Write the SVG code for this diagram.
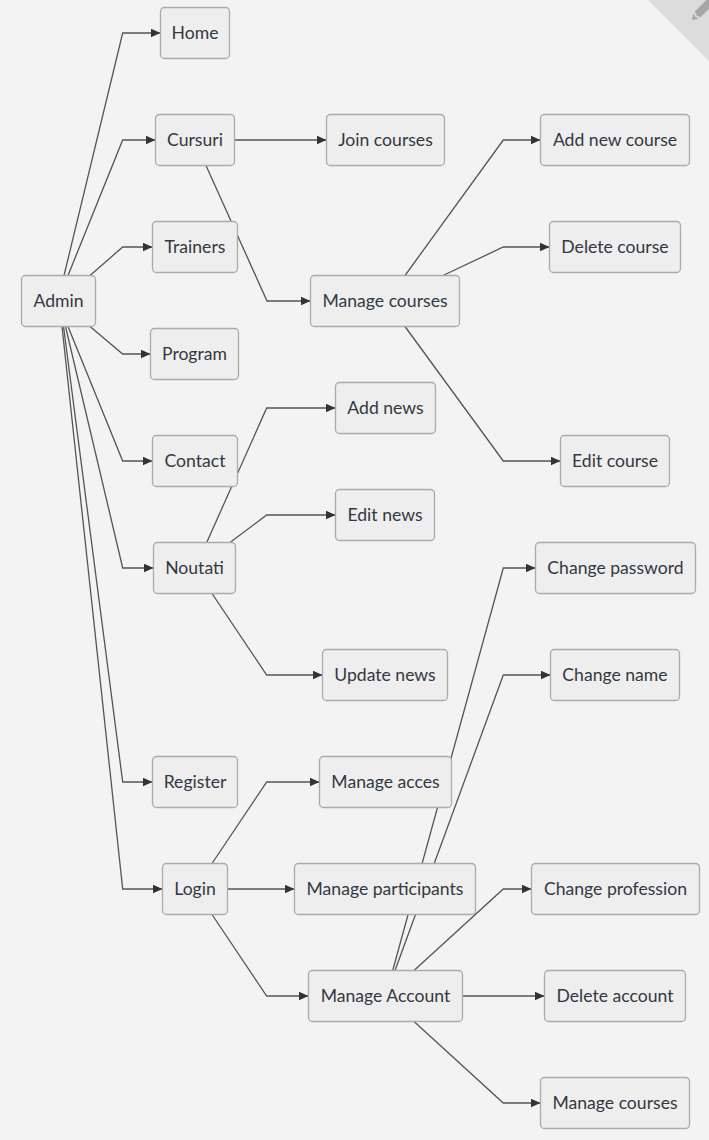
<svg xmlns="http://www.w3.org/2000/svg" width="709" height="1140" viewBox="0 0 709 1140">
<defs>
<style>
.n rect{fill:#eeeeee;stroke:#ababab;stroke-width:1.3}
.n text{font-family:Lato,"Open Sans","Liberation Sans",sans-serif;font-size:17.6px;fill:#333842;text-anchor:middle}
.e path{fill:none;stroke:#555555;stroke-width:1.3;marker-end:url(#ah)}
</style>
<marker id="ah" markerUnits="userSpaceOnUse" markerWidth="11" markerHeight="10" refX="10" refY="4.5" orient="auto">
<path d="M0,0 L10,4.5 L0,9 z" fill="#333333"/>
</marker>
</defs>
<rect x="0" y="0" width="709" height="1140" fill="#f3f3f3"/>
<g id="corner">
<polygon points="648,0 709,0 709,61" fill="#dcdcdc"/>
<polygon points="692,20 693.4,12.9 695.2,16.8 699.1,18.6" fill="#a6a6a6"/>
<polygon points="694.8,11.5 710.4,-4 716,1.6 700.5,17.2 696.6,15.4" fill="#a6a6a6"/>
</g>
<g id="connectors" class="e">
<path d="M64,275.5 L122.7,33 L160.5,33"/>
<path d="M68,275.5 L122.7,140 L155.5,140"/>
<path d="M90,275.5 L122.7,247 L152.5,247"/>
<path d="M90,326.5 L122.7,354 L150.5,354"/>
<path d="M68,326.5 L122.7,461 L152.5,461"/>
<path d="M65.5,326.5 L122.7,568 L153.5,568"/>
<path d="M63.5,326.5 L122.7,782 L152.5,782"/>
<path d="M62,326.5 L122.7,889 L162.5,889"/>
<path d="M234.5,140 L326.5,140"/>
<path d="M206,165.5 L267,301 L310.5,301"/>
<path d="M405,275.5 L503.3,140 L540.5,140"/>
<path d="M443,275.5 L503.3,247 L549.5,247"/>
<path d="M405,326.5 L503.3,461 L560.5,461"/>
<path d="M206.7,542.5 L266.7,408 L335.5,408"/>
<path d="M230,542.5 L266.7,515 L335.5,515"/>
<path d="M212,593.5 L266.7,675 L322.5,675"/>
<path d="M212,863.5 L266.7,782 L319.5,782"/>
<path d="M227.5,889 L294.5,889"/>
<path d="M212,914.5 L266.7,996 L308.5,996"/>
<path d="M392.7,970.5 L503.3,568 L535.5,568"/>
<path d="M395,970.5 L503.3,675 L550.5,675"/>
<path d="M414,970.5 L503.3,889 L531.5,889"/>
<path d="M462.5,996 L544.5,996"/>
<path d="M414,1021.5 L503.3,1103 L540.5,1103"/>
</g>
<g id="admin" class="n"><rect x="21.5" y="275.5" width="74" height="51" rx="4"/><text x="58.5" y="307">Admin</text></g>
<g id="home" class="n"><rect x="160.5" y="7.5" width="69" height="51" rx="4"/><text x="195" y="39">Home</text></g>
<g id="cursuri" class="n"><rect x="155.5" y="114.5" width="79" height="51" rx="4"/><text x="195" y="146">Cursuri</text></g>
<g id="trainers" class="n"><rect x="152.5" y="221.5" width="85" height="51" rx="4"/><text x="195" y="253">Trainers</text></g>
<g id="program" class="n"><rect x="150.5" y="328.5" width="88" height="51" rx="4"/><text x="194.5" y="360">Program</text></g>
<g id="contact" class="n"><rect x="152.5" y="435.5" width="85" height="51" rx="4"/><text x="195" y="467">Contact</text></g>
<g id="noutati" class="n"><rect x="153.5" y="542.5" width="82" height="51" rx="4"/><text x="194.5" y="574">Noutati</text></g>
<g id="register" class="n"><rect x="152.5" y="756.5" width="85" height="51" rx="4"/><text x="195" y="788">Register</text></g>
<g id="login" class="n"><rect x="162.5" y="863.5" width="65" height="51" rx="4"/><text x="195" y="895">Login</text></g>
<g id="join-courses" class="n"><rect x="326.5" y="114.5" width="118" height="51" rx="4"/><text x="385.5" y="146">Join courses</text></g>
<g id="manage-courses" class="n"><rect x="310.5" y="275.5" width="149" height="51" rx="4"/><text x="385" y="307">Manage courses</text></g>
<g id="add-news" class="n"><rect x="335.5" y="382.5" width="100" height="51" rx="4"/><text x="385.5" y="414">Add news</text></g>
<g id="edit-news" class="n"><rect x="335.5" y="489.5" width="99" height="51" rx="4"/><text x="385" y="521">Edit news</text></g>
<g id="update-news" class="n"><rect x="322.5" y="649.5" width="125" height="51" rx="4"/><text x="385" y="681">Update news</text></g>
<g id="manage-acces" class="n"><rect x="319.5" y="756.5" width="132" height="51" rx="4"/><text x="385.5" y="788">Manage acces</text></g>
<g id="manage-participants" class="n"><rect x="294.5" y="863.5" width="181" height="51" rx="4"/><text x="385" y="895">Manage participants</text></g>
<g id="manage-account" class="n"><rect x="308.5" y="970.5" width="154" height="51" rx="4"/><text x="385.5" y="1002">Manage Account</text></g>
<g id="add-new-course" class="n"><rect x="540.5" y="114.5" width="149" height="51" rx="4"/><text x="615" y="146">Add new course</text></g>
<g id="delete-course" class="n"><rect x="549.5" y="221.5" width="131" height="51" rx="4"/><text x="615" y="253">Delete course</text></g>
<g id="edit-course" class="n"><rect x="560.5" y="435.5" width="109" height="51" rx="4"/><text x="615" y="467">Edit course</text></g>
<g id="change-password" class="n"><rect x="535.5" y="542.5" width="160" height="51" rx="4"/><text x="615.5" y="574">Change password</text></g>
<g id="change-name" class="n"><rect x="550.5" y="649.5" width="129" height="51" rx="4"/><text x="615" y="681">Change name</text></g>
<g id="change-profession" class="n"><rect x="531.5" y="863.5" width="168" height="51" rx="4"/><text x="615.5" y="895">Change profession</text></g>
<g id="delete-account" class="n"><rect x="544.5" y="970.5" width="141" height="51" rx="4"/><text x="615" y="1002">Delete account</text></g>
<g id="manage-courses-2" class="n"><rect x="540.5" y="1077.5" width="149" height="51" rx="4"/><text x="615" y="1109">Manage courses</text></g>
</svg>
